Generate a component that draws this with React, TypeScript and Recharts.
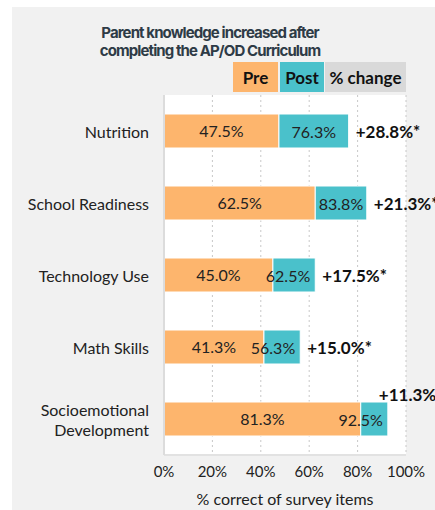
import { BarChart, Bar, XAxis, YAxis, CartesianGrid, LabelList } from 'recharts';

const categories = ['Nutrition', 'School Readiness', 'Technology Use', 'Math Skills', 'Socioemotional Development'];
const preValues = [47.5, 62.5, 45.0, 41.3, 81.3];
const postValues = [76.3, 83.8, 62.5, 56.3, 92.5];
const changeValues = [28.8, 21.3, 17.5, 15.0, 11.3];
const xTicks = [0, 20, 40, 60, 80, 100];

const PRE = '#fdb56d';
const POST = '#4ac1cb';
const FONT = 'Lato, "Noto Sans", sans-serif';

const data = categories.map((name, i) => ({
  name,
  pre: preValues[i],
  gain: +(postValues[i] - preValues[i]).toFixed(1),
  post: postValues[i],
  change: changeValues[i],
}));

const CategoryTick = (props: any) => {
  const { x, y, payload } = props;
  const text: string = payload.value;
  const lines = text.length > 16 ? text.split(' ') : [text];
  const start = -((lines.length - 1) * 20) / 2;
  return (
    <text x={x} y={y} textAnchor="end" fill="#222" fontSize={16} fontFamily={FONT} dominantBaseline="central">
      {lines.map((l, i) => (
        <tspan key={i} x={x} dy={i === 0 ? start : 20}>{l}</tspan>
      ))}
    </text>
  );
};

// post value sits in the teal segment; pushed to its right end when it doesn't fit
const PostLabel = (props: any) => {
  const { x, y, width, height, value } = props;
  const fits = width >= 50;
  return (
    <text
      x={fits ? x + width / 2 : x + width - 5}
      y={y + height / 2}
      textAnchor={fits ? 'middle' : 'end'}
      dominantBaseline="central"
      fill="#222"
      fontSize={16}
      fontFamily={FONT}
    >
      {value.toFixed(1)}%
    </text>
  );
};

const ChangeLabel = (props: any) => {
  const { x, y, width, height, value } = props;
  const end = x + width;
  const above = end > 380;
  return (
    <text
      x={above ? end - 9 : end + 7}
      y={above ? y - 8 : y + height / 2}
      textAnchor="start"
      dominantBaseline="central"
      fill="#111"
      fontSize={17}
      fontWeight={700}
      fontFamily={FONT}
    >
      +{value.toFixed(1)}%*
    </text>
  );
};

const legendBox = (left: number, width: number, bg: string, label: string) => (
  <div
    style={{
      position: 'absolute', left, top: 62, width, height: 30, background: bg,
      display: 'flex', alignItems: 'center', justifyContent: 'center',
      fontFamily: FONT, fontWeight: 700, fontSize: 17, color: '#111',
    }}
  >
    {label}
  </div>
);

export default function App() {
  return (
    <div style={{ position: 'absolute', left: 0, top: 0, width: 435, height: 510, background: '#fff', overflow: 'hidden' }}>
      <div style={{ position: 'absolute', left: 12, top: 7, width: 423, height: 503, background: '#f1f1f1' }} />
      <div
        style={{
          position: 'absolute', left: 60, top: 24, width: 300, textAlign: 'center',
          fontFamily: 'Inter, sans-serif', fontWeight: 700, fontSize: 15, lineHeight: '18px',
          letterSpacing: -0.9, color: '#2e3b46',
        }}
      >
        Parent knowledge increased after
        <br />
        completing the AP/OD Curriculum
      </div>
      {legendBox(233, 45, PRE, 'Pre')}
      {legendBox(280, 44, POST, 'Post')}
      {legendBox(325, 81, '#d9d9d9', '% change')}
      <div style={{ position: 'absolute', left: 0, top: 0 }}>
        <BarChart
          width={435}
          height={510}
          data={data}
          layout="vertical"
          barSize={34}
          margin={{ top: 95, right: 29, left: 14, bottom: 0 }}
          style={{ overflow: 'visible' }}
        >
          <CartesianGrid horizontal={false} fill="#fff" stroke="#c8c8c8" strokeDasharray="2 3" />
          <XAxis
            type="number"
            domain={[0, 100]}
            ticks={xTicks}
            tickFormatter={(v) => `${v}%`}
            axisLine={{ stroke: '#e2e2e2', strokeWidth: 2 }}
            tickLine={false}
            tickSize={0}
            tickMargin={11}
            height={55}
            tick={{ fill: '#222', fontSize: 15, fontFamily: FONT }}
            label={{ value: '% correct of survey items', position: 'insideBottom', offset: 5, fill: '#222', fontSize: 16, fontFamily: FONT }}
          />
          <YAxis
            type="category"
            dataKey="name"
            width={150}
            axisLine={{ stroke: '#dcdcdc', strokeWidth: 2 }}
            tickLine={false}
            tickSize={0}
            tickMargin={15}
            tick={<CategoryTick />}
          />
          <Bar dataKey="pre" stackId="a" fill={PRE} stroke="#fff" strokeWidth={1} isAnimationActive={false}>
            <LabelList
              dataKey="pre"
              position="center"
              formatter={(v: any) => `${Number(v).toFixed(1)}%`}
              style={{ fill: '#222', fontSize: 16, fontFamily: FONT }}
            />
          </Bar>
          <Bar dataKey="gain" stackId="a" fill={POST} stroke="#fff" strokeWidth={1} isAnimationActive={false}>
            <LabelList dataKey="post" content={<PostLabel />} />
            <LabelList dataKey="change" content={<ChangeLabel />} />
          </Bar>
        </BarChart>
      </div>
    </div>
  );
}
